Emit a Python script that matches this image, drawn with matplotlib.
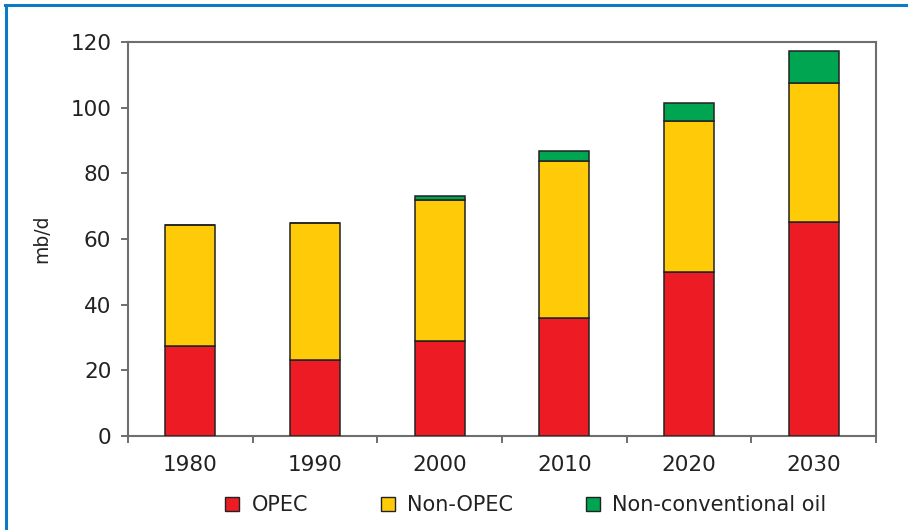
import matplotlib
matplotlib.use("Agg")
import matplotlib.pyplot as plt
from matplotlib.lines import Line2D
import numpy as np

years = ["1980", "1990", "2000", "2010", "2020", "2030"]
opec = [27.4, 23.1, 28.9, 35.8, 50.0, 65.2]
non_opec = [36.9, 41.7, 43.0, 48.0, 46.0, 42.2]
non_conventional = [0.0, 0.0, 1.2, 3.0, 5.5, 9.8]

series_names = ["OPEC", "Non-OPEC", "Non-conventional oil"]
colors = ["#ED1C24", "#FFCB08", "#00A551"]

plt.rcParams["font.family"] = ["DejaVu Sans"]

fig = plt.figure(figsize=(9.08, 5.30), dpi=100)
ax = fig.add_axes([0.141, 0.1774, 0.8238, 0.7434])

x = np.arange(len(years))
bottom = np.zeros(len(years))
for vals, col, name in zip([opec, non_opec, non_conventional], colors, series_names):
    vals = np.array(vals)
    ax.bar(x, vals, width=0.40, bottom=bottom, color=col, edgecolor="#222222",
           linewidth=1.1, label=name, zorder=3)
    bottom += vals

ax.set_xlim(-0.5, len(years) - 0.5)
ax.set_ylim(0, 120)
ax.set_yticks(np.arange(0, 121, 20))
ax.set_xticks(x)
ax.set_xticklabels(years)
ax.set_xticks(np.arange(-0.5, len(years), 1.0), minor=True)
ax.tick_params(axis="x", which="major", length=0, pad=14, labelsize=15.5, colors="#222222")
ax.tick_params(axis="x", which="minor", length=5, width=1.2, direction="out", color="#555555")
ax.tick_params(axis="y", length=5, width=1.2, direction="out", pad=7, labelsize=15.5,
               color="#555555", labelcolor="#222222")

for side in ["left", "bottom", "top", "right"]:
    ax.spines[side].set_color("#6e6e6e")
    ax.spines[side].set_linewidth(1.5)

ax.set_ylabel("mb/d", fontsize=13.5, color="#222222", labelpad=14)

handles = [plt.Rectangle((0, 0), 1, 1, facecolor=c, edgecolor="#222222", linewidth=1.0)
           for c in colors]
fig.legend(handles, series_names, loc="center", bbox_to_anchor=(0.579, 0.047), ncol=3,
           frameon=False, fontsize=15, handlelength=0.67, handleheight=0.67,
           handletextpad=0.58, columnspacing=3.5, labelcolor="#222222")

# blue frame on the top and left edges of the figure
fig.add_artist(Line2D([0.0055, 1.0], [0.9915, 0.9915], transform=fig.transFigure,
                      color="#0B7BC6", linewidth=2.2))
fig.add_artist(Line2D([0.0065, 0.0065], [0.0, 0.9915], transform=fig.transFigure,
                      color="#0B7BC6", linewidth=2.2))

fig.savefig("out.png", dpi=100, facecolor="white")
